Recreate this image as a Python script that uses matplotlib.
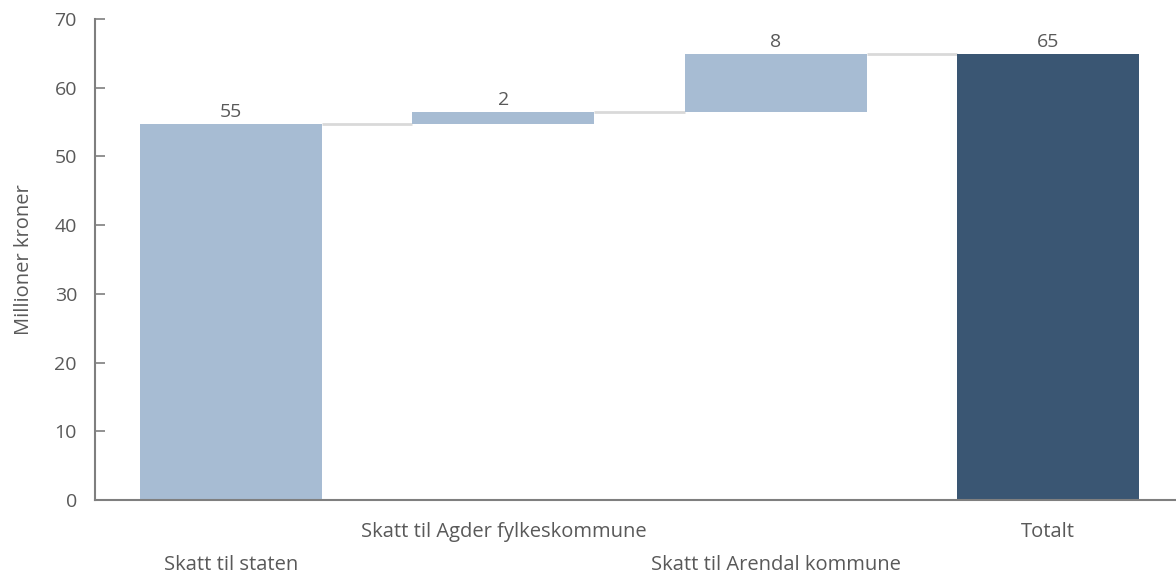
import matplotlib.pyplot as plt

categories = ["Skatt til staten", "Skatt til Agder fylkeskommune",
              "Skatt til Arendal kommune", "Totalt"]
changes = [54.7, 1.8, 8.4]
total = 64.9

plt.rcParams['font.family'] = ['Open Sans', 'DejaVu Sans']

fig = plt.figure(figsize=(11.76, 5.79), dpi=100)
ax = fig.add_axes([95 / 1176, 79 / 579, 1 - 95 / 1176, 481 / 579])

light = '#a7bcd3'
dark = '#3a5673'
grey_text = '#595959'
width = 0.668

# waterfall steps
bottoms = []
running = 0
for v in changes:
    bottoms.append(running)
    running += v
values = changes + [total]
bottoms.append(0)
colors = [light] * len(changes) + [dark]

x = list(range(len(values)))
ax.bar(x, values, bottom=bottoms, width=width, color=colors, zorder=2)

# connectors between bars
for i in range(len(values) - 1):
    level = bottoms[i] + values[i]
    ax.plot([i + width / 2, i + 1 - width / 2], [level, level],
            color='#d9d9d9', lw=2, zorder=1, solid_capstyle='butt')

for i in range(len(values)):
    ax.annotate(f"{values[i]:.0f}", (i, bottoms[i] + values[i]),
                xytext=(0, 5), textcoords='offset points',
                ha='center', va='baseline', fontsize=14, color=grey_text)

# category labels, staggered in two rows
for i, c in enumerate(categories):
    off = -23 if i % 2 == 1 else -47
    ax.annotate(c, (i, 0), xycoords=('data', 'axes fraction'),
                xytext=(0, off), textcoords='offset points',
                ha='center', va='center', fontsize=14.5, color=grey_text)

ax.set_xlim(-0.5, 3.47)
ax.set_ylim(0, 70)
ax.set_yticks(range(0, 71, 10))
ax.set_xticks([])
ax.tick_params(axis='y', direction='in', length=7, width=1.2, color='#7f7f7f',
               pad=13, labelsize=14, labelcolor=grey_text)

for s in ['top', 'right']:
    ax.spines[s].set_visible(False)
for s in ['left', 'bottom']:
    ax.spines[s].set_color('#7f7f7f')
    ax.spines[s].set_linewidth(1.5)

ax.set_ylabel("Millioner kroner", fontsize=14.5, color=grey_text, labelpad=15)

fig.savefig("out.png", dpi=100)
